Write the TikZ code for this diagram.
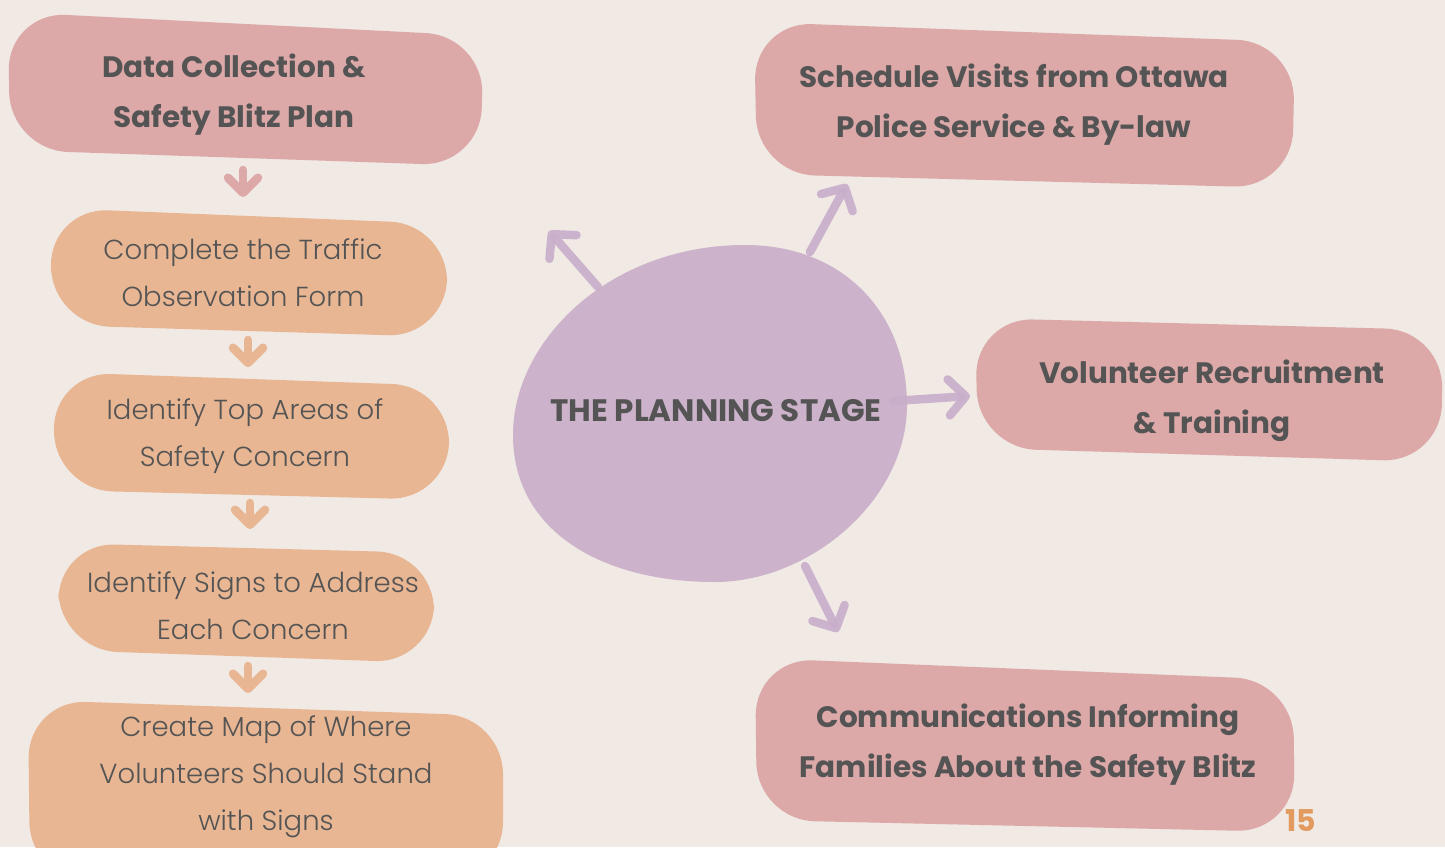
\documentclass[tikz,border=0pt]{standalone}
\usepackage{fontspec}
\setmainfont{Poppins}
\newfontfamily\lightf{Poppins Light}
\usetikzlibrary{arrows.meta,calc}
\definecolor{bgc}{HTML}{F0E9E4}
\definecolor{pinkc}{HTML}{DCA8A8}
\definecolor{orangec}{HTML}{E8B692}
\definecolor{purplec}{HTML}{CCB2CA}
\definecolor{parrc}{HTML}{C9AECB}
\definecolor{txtc}{HTML}{545454}
\definecolor{numc}{HTML}{E29A5E}
\begin{document}
\begin{tikzpicture}[x=1pt,y=-1pt,
  blob/.style={rounded corners=58pt},
  head/.style={font=\fontsize{29.5}{50}\selectfont\bfseries, text=txtc, align=center, inner sep=0pt},
  sub/.style={font=\lightf\fontsize{27.5}{47}\selectfont, text=txtc, align=center, inner sep=0pt},
  arr/.style={line width=8.5pt, line cap=round, line join=round, -{Straight Barb[length=15pt,width=30pt,round]}},
  parr/.style={arr, draw=parrc, opacity=0.9, -{Straight Barb[length=17pt,width=36pt,round]}},
]
\useasboundingbox (0,0) rectangle (1445,847);
\fill[bgc] (0,0) rectangle (1445,847);
\clip (0,0) rectangle (1445,847);

% blobs
\fill[pinkc, blob] (8,12) -- (484,36) -- (480,166) -- (10,150) -- cycle;
\fill[pinkc, blob] (754,22) -- (1295,42) -- (1292,188) -- (757,174) -- cycle;
\fill[pinkc, blob] (975,318) -- (1443,330) -- (1441,462) -- (978,448) -- cycle;
\fill[pinkc, blob] (755,658) -- (1293,680) -- (1295,832) -- (757,820) -- cycle;
\fill[orangec, blob] (50,208) -- (448,224) -- (446,337) -- (52,325) -- cycle;
\fill[orangec, blob] (53,372) -- (450,386) -- (448,500) -- (55,490) -- cycle;
\fill[orangec, blob] (57,543) -- (435,553) -- (433,663) -- (60,650) -- cycle;
\fill[orangec, blob] (28,700) -- (503,716) -- (503,880) -- (30,880) -- cycle;
\fill[purplec] (513,435) .. controls (513,340) and (610,245) .. (745,245)
  .. controls (845,245) and (907,315) .. (907,405)
  .. controls (907,500) and (810,582) .. (715,582)
  .. controls (600,582) and (513,530) .. (513,435) -- cycle;

% texts
\node[head] (t1) at (234,95) {Data Collection \&\\Safety Blitz Plan};
\node[head] (t2) at (1014,105) {Schedule Visits from Ottawa\\Police Service \& By-law};
\node[head] (t3) at (1212,401) {Volunteer Recruitment\\\& Training};
\node[head] (t4) at (1028,745) {Communications Informing\\Families About the Safety Blitz};
\node[sub] (s1) at (243,273) {Complete the Traffic\\Observation Form};
\node[sub] (s2) at (245,436) {Identify Top Areas of\\Safety Concern};
\node[sub] (s3) at (253,606) {Identify Signs to Address\\Each Concern};
\node[sub] (s4) at (266,777) {Create Map of Where\\Volunteers Should Stand\\with Signs};
\node[font=\fontsize{31}{33}\selectfont\bfseries, text=txtc, inner sep=0pt] (c) at (716,411) {THE PLANNING STAGE};
\node[font=\fontsize{30}{32}\selectfont\bfseries, text=numc, inner sep=0pt] (n15) at (1301,821) {15};

% connector ends
\coordinate (a1s) at (243,170); \coordinate (a1e) at (243,197);
\coordinate (a2s) at (248,340); \coordinate (a2e) at (248,367);
\coordinate (a3s) at (250,503); \coordinate (a3e) at (250,529);
\coordinate (a4s) at (248,666); \coordinate (a4e) at (248,693);
\coordinate (p1s) at (598,287); \coordinate (p1e) at (549,231);
\coordinate (p2s) at (810,252); \coordinate (p2e) at (847,184);
\coordinate (p3s) at (893,401); \coordinate (p3e) at (970,396);
\coordinate (p4s) at (805,566); \coordinate (p4e) at (838,632);

\draw[arr, draw=pinkc] (a1s) -- (a1e);
\draw[arr, draw=orangec] (a2s) -- (a2e);
\draw[arr, draw=orangec] (a3s) -- (a3e);
\draw[arr, draw=orangec] (a4s) -- (a4e);
\draw[parr] (p1s) -- (p1e);
\draw[parr] (p2s) -- (p2e);
\draw[parr] (p3s) -- (p3e);
\draw[parr] (p4s) -- (p4e);
\end{tikzpicture}
\end{document}
